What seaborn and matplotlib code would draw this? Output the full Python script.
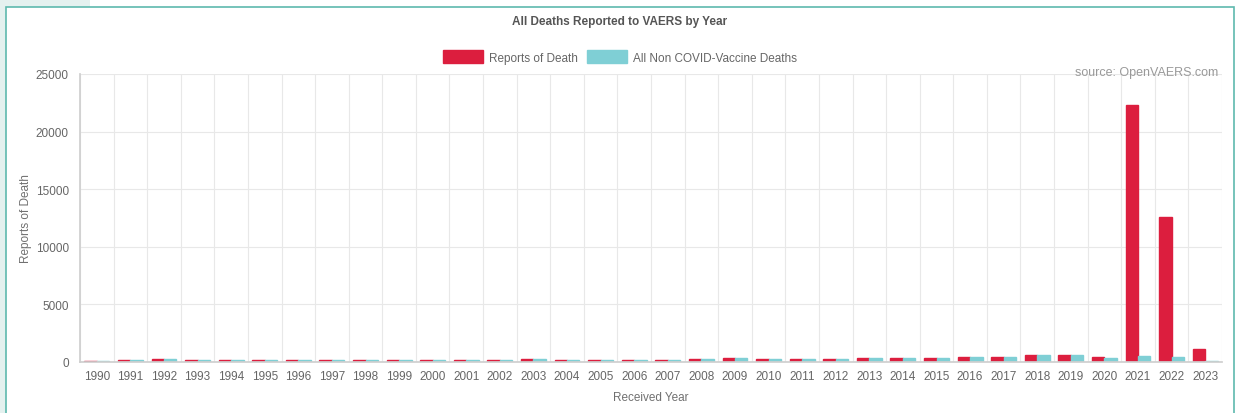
import matplotlib
matplotlib.use("Agg")
import matplotlib.pyplot as plt
import matplotlib.patches as mpatches
import seaborn as sns
import pandas as pd
import numpy as np

years = [str(y) for y in range(1990, 2024)]
reports_of_death = [90, 170, 220, 200, 215, 140, 140, 160, 150, 170, 190, 200, 150, 240, 200, 180,
                    160, 200, 300, 330, 300, 300, 290, 310, 320, 370, 440, 450, 580, 630, 420,
                    22300, 12600, 1130]
non_covid_deaths = [90, 170, 220, 200, 215, 140, 140, 160, 150, 170, 190, 200, 150, 240, 200, 180,
                    160, 200, 300, 330, 300, 300, 290, 310, 320, 370, 440, 450, 580, 630, 370,
                    540, 460, 60]
series_names = ["Reports of Death", "All Non COVID-Vaccine Deaths"]

RED = "#DC1E3E"
TEAL = "#7FCFD5"

df = pd.DataFrame({
    "year": years * 2,
    "value": reports_of_death + non_covid_deaths,
    "series": [series_names[0]] * len(years) + [series_names[1]] * len(years),
})

sns.set_theme(style="white")
plt.rcParams['font.family'] = ['Liberation Sans', 'DejaVu Sans']

fig = plt.figure(figsize=(12.4, 4.14), dpi=100)
fig.patch.set_facecolor("white")

# outer decoration: light strip and teal frame
fig.patches.append(mpatches.Rectangle((0, 0), 6 / 1240, 1, transform=fig.transFigure,
                                      facecolor="#E4F1EF", edgecolor="none", zorder=0))
fig.patches.append(mpatches.Rectangle((0, 406 / 414), 90 / 1240, 8 / 414, transform=fig.transFigure,
                                      facecolor="#E4F1EF", edgecolor="none", zorder=0))
fig.patches.append(mpatches.Rectangle((6 / 1240, -0.05), 1228 / 1240, (406 / 414) + 0.05,
                                      transform=fig.transFigure, facecolor="none",
                                      edgecolor="#5DB9AE", linewidth=1.2, zorder=1))

ax = fig.add_axes([80 / 1240, 51 / 414, 1142 / 1240, 288 / 414])
sns.barplot(data=df, x="year", y="value", hue="series", palette=[RED, TEAL],
            width=0.74, ax=ax, legend=False, saturation=1, errorbar=None)
for p in ax.patches:
    p.set_edgecolor(p.get_facecolor())

ax.set_ylim(0, 25000)
ax.set_xlim(-0.5, len(years) - 0.5)
ax.set_yticks(np.arange(0, 25001, 5000))
ax.set_xticks(np.arange(-0.5, len(years), 1.0), minor=True)
ax.grid(True, axis="y", color="#E8E8E8", linewidth=0.8)
ax.grid(True, axis="x", which="minor", color="#E8E8E8", linewidth=0.8)
ax.grid(False, axis="x", which="major")
ax.set_axisbelow(True)
for s in ["top", "right"]:
    ax.spines[s].set_visible(False)
ax.spines["left"].set_color("#CFCFCF")
ax.spines["bottom"].set_color("#CFCFCF")
ax.tick_params(axis="y", length=6, color="#DADADA", labelsize=8.5, labelcolor="#666666", pad=2)
ax.tick_params(axis="x", which="major", length=0, labelsize=8.5, labelcolor="#666666", pad=6)
ax.tick_params(axis="x", which="minor", length=5, color="#E0E0E0")
ax.set_xlabel("Received Year", fontsize=8.5, color="#707070", labelpad=6)
ax.set_ylabel("Reports of Death", fontsize=8.5, color="#707070", labelpad=3)

fig.text(0.5, 1 - 22 / 414, "All Deaths Reported to VAERS by Year", ha="center", va="center",
         fontsize=8.5, fontweight="bold", color="#555555")

handles = [mpatches.Patch(facecolor=RED, edgecolor=RED, label=series_names[0]),
           mpatches.Patch(facecolor=TEAL, edgecolor=TEAL, label=series_names[1])]
fig.legend(handles=handles, loc="center", bbox_to_anchor=(0.5, 1 - 58 / 414), ncol=2, frameon=False,
           fontsize=8.5, labelcolor="#666666", handlelength=3.4, handleheight=1.3,
           handletextpad=0.5, columnspacing=0.8)

fig.text(1218 / 1240, 1 - 73 / 414, "source: OpenVAERS.com", ha="right", va="center",
         fontsize=9, color="#999999")

fig.savefig("out.png", dpi=100)
